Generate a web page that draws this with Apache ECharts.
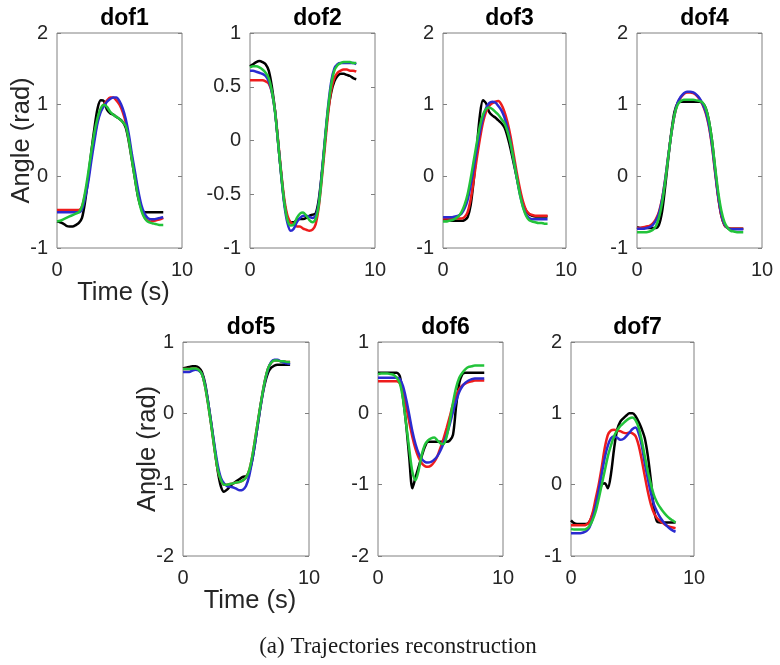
<!DOCTYPE html>
<html>
<head>
<meta charset="utf-8">
<script src="https://cdn.jsdelivr.net/npm/echarts@6/dist/echarts.min.js"></script>
<style>
  html, body { margin: 0; padding: 0; background: #fff; }
  #chart { width: 780px; height: 665px; }
</style>
</head>
<body>
<div id="chart"></div>
<script>
// ---------------- DATA ----------------
const time = [0,0.25,0.5,0.75,1,1.25,1.5,1.75,2,2.25,2.5,2.75,3,3.25,3.5,3.75,4,4.25,4.5,4.75,5,5.25,5.5,5.75,6,6.25,6.5,6.75,7,7.25,7.5,7.75,8,8.25,8.5];

const panelTitles = ['dof1','dof2','dof3','dof4','dof5','dof6','dof7'];
const yMin = [-1, -1, -1, -1, -2, -2, -1];
const yMax = [2, 1, 2, 2, 1, 1, 2];
const yStep = [1, 0.5, 1, 1, 1, 1, 1];
const xTicks = [0, 10];
const yAxisName = 'Angle (rad)';
const xAxisName = 'Time (s)';
const caption = '(a) Trajectories reconstruction';

// dof1
const dof1Black = [-0.63,-0.64,-0.66,-0.69,-0.70,-0.70,-0.68,-0.65,-0.58,-0.35,-0.02,0.35,0.68,0.95,1.06,1.05,0.93,0.88,0.86,0.83,0.80,0.76,0.68,0.48,0.22,-0.05,-0.30,-0.45,-0.50,-0.50,-0.50,-0.50,-0.50,-0.50,-0.50];
const dof1Red   = [-0.47,-0.47,-0.47,-0.47,-0.47,-0.47,-0.47,-0.47,-0.42,-0.25,-0.02,0.30,0.55,0.78,0.92,1.00,1.06,1.10,1.10,1.06,1.00,0.90,0.75,0.52,0.25,0.00,-0.25,-0.45,-0.57,-0.62,-0.63,-0.62,-0.61,-0.60,-0.58];
const dof1Blue  = [-0.50,-0.50,-0.50,-0.50,-0.50,-0.50,-0.50,-0.50,-0.46,-0.30,-0.08,0.22,0.50,0.75,0.90,0.98,1.04,1.08,1.10,1.10,1.05,0.95,0.80,0.58,0.30,0.05,-0.20,-0.40,-0.52,-0.58,-0.60,-0.60,-0.59,-0.58,-0.57];
const dof1Green = [-0.63,-0.62,-0.60,-0.58,-0.56,-0.54,-0.52,-0.50,-0.42,-0.22,0.05,0.35,0.62,0.82,0.95,1.00,0.97,0.90,0.86,0.83,0.80,0.76,0.70,0.50,0.22,-0.05,-0.30,-0.48,-0.58,-0.63,-0.65,-0.66,-0.67,-0.68,-0.68];
// dof2
const dof2Black = [0.69,0.71,0.73,0.74,0.73,0.71,0.65,0.50,0.28,-0.02,-0.32,-0.58,-0.72,-0.76,-0.76,-0.74,-0.73,-0.73,-0.72,-0.70,-0.69,-0.68,-0.55,-0.30,0.00,0.28,0.45,0.55,0.60,0.62,0.62,0.61,0.60,0.58,0.57];
const dof2Red   = [0.56,0.56,0.56,0.56,0.56,0.55,0.53,0.45,0.28,0.00,-0.30,-0.55,-0.70,-0.76,-0.78,-0.80,-0.80,-0.82,-0.83,-0.84,-0.83,-0.78,-0.62,-0.35,-0.05,0.25,0.47,0.58,0.63,0.65,0.66,0.66,0.65,0.65,0.64];
const dof2Blue  = [0.65,0.65,0.64,0.63,0.62,0.60,0.55,0.45,0.27,-0.02,-0.33,-0.60,-0.77,-0.84,-0.82,-0.76,-0.72,-0.70,-0.70,-0.71,-0.72,-0.70,-0.58,-0.30,0.02,0.32,0.55,0.67,0.71,0.72,0.72,0.72,0.72,0.72,0.71];
const dof2Green = [0.68,0.69,0.69,0.68,0.66,0.63,0.58,0.46,0.27,-0.02,-0.32,-0.58,-0.74,-0.79,-0.78,-0.72,-0.68,-0.67,-0.70,-0.74,-0.76,-0.73,-0.60,-0.33,0.00,0.30,0.52,0.65,0.70,0.72,0.73,0.73,0.73,0.72,0.72];
// dof3
const dof3Black = [-0.60,-0.60,-0.61,-0.62,-0.62,-0.62,-0.62,-0.61,-0.57,-0.40,-0.05,0.40,0.85,1.06,1.02,0.90,0.85,0.82,0.78,0.74,0.68,0.55,0.38,0.18,-0.02,-0.22,-0.38,-0.48,-0.53,-0.55,-0.56,-0.56,-0.56,-0.56,-0.56];
const dof3Red   = [-0.59,-0.59,-0.59,-0.59,-0.59,-0.59,-0.59,-0.57,-0.50,-0.32,-0.05,0.25,0.52,0.75,0.90,0.98,1.02,1.04,1.05,1.00,0.90,0.75,0.55,0.30,0.05,-0.17,-0.35,-0.47,-0.52,-0.54,-0.55,-0.55,-0.55,-0.55,-0.55];
const dof3Blue  = [-0.57,-0.57,-0.57,-0.57,-0.56,-0.55,-0.52,-0.45,-0.33,-0.12,0.12,0.38,0.62,0.82,0.95,1.02,1.04,1.03,0.98,0.92,0.82,0.67,0.46,0.22,-0.02,-0.25,-0.42,-0.53,-0.58,-0.60,-0.60,-0.60,-0.60,-0.60,-0.60];
const dof3Green = [-0.63,-0.63,-0.62,-0.61,-0.59,-0.56,-0.50,-0.40,-0.25,-0.03,0.22,0.47,0.70,0.86,0.94,0.96,0.94,0.90,0.86,0.80,0.74,0.62,0.45,0.22,-0.02,-0.25,-0.43,-0.55,-0.61,-0.63,-0.64,-0.65,-0.65,-0.66,-0.66];
// dof4
const dof4Black = [-0.71,-0.72,-0.72,-0.72,-0.72,-0.72,-0.72,-0.68,-0.50,-0.15,0.25,0.62,0.90,1.02,1.04,1.04,1.04,1.04,1.04,1.04,1.04,1.02,0.95,0.78,0.50,0.10,-0.28,-0.55,-0.68,-0.72,-0.73,-0.73,-0.73,-0.73,-0.73];
const dof4Red   = [-0.72,-0.72,-0.71,-0.70,-0.69,-0.66,-0.60,-0.50,-0.32,-0.05,0.28,0.60,0.85,1.02,1.10,1.15,1.17,1.17,1.16,1.13,1.08,1.00,0.88,0.70,0.42,0.05,-0.30,-0.55,-0.68,-0.72,-0.73,-0.73,-0.73,-0.73,-0.73];
const dof4Blue  = [-0.73,-0.73,-0.73,-0.72,-0.71,-0.68,-0.62,-0.52,-0.33,-0.05,0.28,0.60,0.86,1.03,1.11,1.16,1.18,1.18,1.17,1.14,1.09,1.01,0.90,0.72,0.44,0.07,-0.28,-0.53,-0.67,-0.72,-0.74,-0.74,-0.74,-0.74,-0.74];
const dof4Green = [-0.78,-0.78,-0.78,-0.78,-0.77,-0.75,-0.70,-0.58,-0.38,-0.08,0.27,0.60,0.86,1.00,1.05,1.07,1.07,1.07,1.07,1.06,1.05,1.03,0.95,0.78,0.50,0.13,-0.22,-0.48,-0.64,-0.72,-0.76,-0.77,-0.78,-0.78,-0.78];
// dof5
const dof5Black = [0.63,0.64,0.65,0.66,0.66,0.64,0.58,0.42,0.15,-0.15,-0.48,-0.80,-1.02,-1.10,-1.07,-1.02,-0.98,-0.95,-0.92,-0.89,-0.88,-0.82,-0.65,-0.38,-0.08,0.20,0.42,0.57,0.64,0.67,0.68,0.68,0.68,0.68,0.68];
const dof5Red   = [0.62,0.62,0.62,0.63,0.63,0.61,0.55,0.38,0.12,-0.18,-0.50,-0.78,-0.93,-1.00,-1.00,-0.99,-0.98,-0.97,-0.96,-0.94,-0.90,-0.80,-0.60,-0.33,-0.05,0.22,0.46,0.63,0.71,0.74,0.74,0.73,0.73,0.72,0.72];
const dof5Blue  = [0.58,0.58,0.58,0.60,0.61,0.60,0.55,0.40,0.15,-0.15,-0.45,-0.72,-0.90,-0.98,-1.02,-1.03,-1.04,-1.06,-1.08,-1.07,-1.02,-0.88,-0.65,-0.38,-0.08,0.20,0.45,0.62,0.72,0.75,0.75,0.73,0.71,0.70,0.69];
const dof5Green = [0.62,0.62,0.62,0.63,0.63,0.61,0.55,0.38,0.12,-0.18,-0.50,-0.78,-0.93,-1.00,-1.00,-0.99,-0.98,-0.97,-0.96,-0.94,-0.90,-0.80,-0.60,-0.33,-0.05,0.22,0.46,0.63,0.71,0.74,0.74,0.73,0.73,0.72,0.72];
// dof6
const dof6Black = [0.57,0.57,0.57,0.57,0.57,0.57,0.57,0.52,0.22,-0.15,-0.62,-1.05,-0.90,-0.75,-0.60,-0.47,-0.40,-0.40,-0.40,-0.40,-0.40,-0.40,-0.40,-0.38,-0.30,0.10,0.42,0.55,0.57,0.57,0.57,0.57,0.57,0.57,0.57];
const dof6Red   = [0.45,0.45,0.45,0.45,0.45,0.45,0.45,0.42,0.30,0.10,-0.12,-0.33,-0.50,-0.62,-0.70,-0.74,-0.75,-0.73,-0.68,-0.60,-0.48,-0.35,-0.20,-0.04,0.13,0.25,0.34,0.39,0.42,0.44,0.45,0.46,0.46,0.46,0.46];
const dof6Blue  = [0.50,0.50,0.50,0.50,0.50,0.50,0.50,0.48,0.38,0.20,-0.02,-0.25,-0.43,-0.56,-0.64,-0.68,-0.69,-0.68,-0.65,-0.60,-0.52,-0.42,-0.30,-0.15,0.02,0.17,0.30,0.38,0.43,0.46,0.48,0.49,0.49,0.49,0.49];
const dof6Green = [0.55,0.56,0.56,0.56,0.55,0.54,0.50,0.42,0.20,-0.15,-0.50,-0.82,-0.94,-0.80,-0.58,-0.44,-0.38,-0.35,-0.34,-0.38,-0.42,-0.43,-0.32,-0.10,0.15,0.36,0.50,0.57,0.62,0.65,0.66,0.67,0.67,0.67,0.67];
// dof7
const dof7Black = [-0.50,-0.54,-0.55,-0.55,-0.55,-0.55,-0.52,-0.42,-0.28,-0.12,0.00,0.02,-0.05,0.15,0.50,0.77,0.88,0.93,0.97,1.00,1.00,0.96,0.88,0.78,0.65,0.40,0.05,-0.35,-0.52,-0.53,-0.53,-0.53,-0.53,-0.53,-0.53];
const dof7Red   = [-0.57,-0.57,-0.57,-0.57,-0.57,-0.56,-0.52,-0.40,-0.20,0.00,0.25,0.52,0.70,0.76,0.77,0.76,0.75,0.73,0.72,0.73,0.72,0.68,0.55,0.35,0.12,-0.10,-0.28,-0.40,-0.47,-0.51,-0.54,-0.57,-0.59,-0.60,-0.61];
const dof7Blue  = [-0.68,-0.68,-0.68,-0.68,-0.67,-0.65,-0.60,-0.48,-0.30,-0.08,0.15,0.38,0.55,0.65,0.68,0.66,0.63,0.64,0.68,0.73,0.78,0.80,0.72,0.55,0.30,0.08,-0.12,-0.28,-0.38,-0.46,-0.52,-0.57,-0.61,-0.64,-0.66];
const dof7Green = [-0.62,-0.63,-0.63,-0.63,-0.63,-0.62,-0.58,-0.50,-0.38,-0.20,0.00,0.20,0.40,0.55,0.68,0.76,0.82,0.86,0.90,0.93,0.94,0.90,0.80,0.62,0.40,0.18,0.00,-0.15,-0.25,-0.32,-0.38,-0.43,-0.47,-0.50,-0.53];

const panelSeries = [
  [dof1Black, dof1Red, dof1Blue, dof1Green],
  [dof2Black, dof2Red, dof2Blue, dof2Green],
  [dof3Black, dof3Red, dof3Blue, dof3Green],
  [dof4Black, dof4Red, dof4Blue, dof4Green],
  [dof5Black, dof5Red, dof5Blue, dof5Green],
  [dof6Black, dof6Red, dof6Blue, dof6Green],
  [dof7Black, dof7Red, dof7Blue, dof7Green]
];

// ---------------- LAYOUT / STYLE ----------------
const lineColors = ['#000000', '#ee1c1c', '#2b2bd0', '#22c33a'];
const boxes = [
  {l: 57,  t: 33,  w: 125, h: 215},
  {l: 250, t: 33,  w: 125, h: 215},
  {l: 443, t: 33,  w: 123, h: 215},
  {l: 637, t: 33,  w: 125, h: 215},
  {l: 183, t: 342, w: 126, h: 214},
  {l: 378, t: 342, w: 125, h: 214},
  {l: 571, t: 342, w: 123, h: 214}
];
const FONT = "'Liberation Sans', Arial, Helvetica, sans-serif";
const axisGray = '#808080';
const labelColor = '#262626';

const grid = [], xAxis = [], yAxis = [], series = [], title = [];

boxes.forEach((b, i) => {
  grid.push({left: b.l, top: b.t, width: b.w, height: b.h, show: true,
    borderColor: axisGray, borderWidth: 1, backgroundColor: '#fff', containLabel: false});
  xAxis.push({
    type: 'value', gridIndex: i, min: xTicks[0], max: xTicks[1], interval: 10,
    axisLine: {show: false}, axisTick: {show: false}, splitLine: {show: false},
    axisLabel: {fontFamily: FONT, fontSize: 20, color: labelColor, margin: 12}
  });
  yAxis.push({
    type: 'value', gridIndex: i, min: yMin[i], max: yMax[i], interval: yStep[i],
    axisLine: {show: false}, splitLine: {show: false},
    axisTick: {show: true, inside: true, length: 4, lineStyle: {color: axisGray}},
    axisLabel: {fontFamily: FONT, fontSize: 20, color: labelColor, margin: 9,
      formatter: v => String(v)}
  });
  yAxis.push({
    type: 'value', gridIndex: i, position: 'right', min: yMin[i], max: yMax[i], interval: yStep[i],
    axisLine: {show: false}, splitLine: {show: false}, axisLabel: {show: false},
    axisTick: {show: true, inside: true, length: 4, lineStyle: {color: axisGray}}
  });
  title.push({
    text: panelTitles[i], left: b.l + b.w / 2, top: b.t - 31, textAlign: 'center',
    textStyle: {fontFamily: FONT, fontSize: 23, fontWeight: 'bold', color: '#000'}
  });
  panelSeries[i].forEach((vals, k) => {
    series.push({
      type: 'line', xAxisIndex: i, yAxisIndex: 2 * i, showSymbol: false, symbol: 'none',
      smooth: 0.3, clip: true, silent: true,
      lineStyle: {color: lineColors[k], width: 2.5},
      data: time.map((t, j) => [t, vals[j]])
    });
  });
});

const graphic = [];
[0, 4].forEach(i => {
  const b = boxes[i];
  graphic.push({type: 'text', x: b.l - 35, y: b.t + b.h / 2, rotation: Math.PI / 2,
    style: {text: yAxisName, font: '25.5px ' + FONT, fill: labelColor, textAlign: 'center', textVerticalAlign: 'middle'}});
  graphic.push({type: 'text', x: b.l + b.w / 2 + 4, y: b.t + b.h + 45,
    style: {text: xAxisName, font: '25.5px ' + FONT, fill: labelColor, textAlign: 'center', textVerticalAlign: 'middle'}});
});
graphic.push({type: 'text', x: 398, y: 647,
  style: {text: caption, font: "23px 'Liberation Serif', 'Times New Roman', serif", fill: '#1a1a1a', textAlign: 'center', textVerticalAlign: 'middle'}});

const chart = echarts.init(document.getElementById('chart'), null, {renderer: 'canvas'});
chart.setOption({
  animation: false,
  backgroundColor: '#fff',
  title, grid, xAxis, yAxis, series, graphic
});
</script>
</body>
</html>
